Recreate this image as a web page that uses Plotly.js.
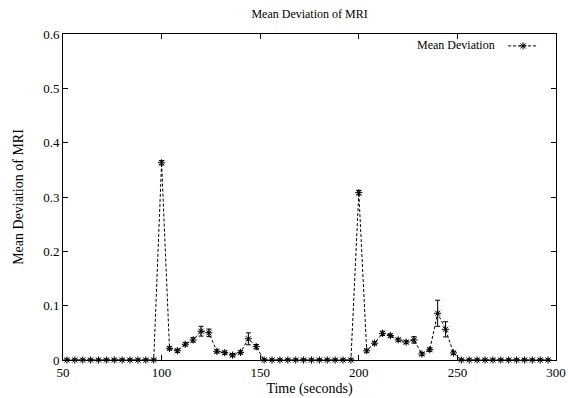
<!DOCTYPE html>
<html>
<head>
<meta charset="utf-8">
<script src="https://cdn.plot.ly/plotly-3.0.1.min.js"></script>
<style>html,body{margin:0;padding:0;background:#fff;}#chart{width:568px;height:398px;}</style>
</head>
<body>
<div id="chart"></div>
<script>
// Time stamps (seconds)
const timeSeconds = [52,56,60,64,68,72,76,80,84,88,92,96,100,104,108,112,116,120,124,128,132,136,140,144,148,152,156,160,164,168,172,176,180,184,188,192,196,200,204,208,212,216,220,224,228,232,236,240,244,248,252,256,260,264,268,272,276,280,284,288,292,296];
// Mean deviation values
const meanDeviation = [0,0,0,0,0,0,0,0,0,0,0,0,0.363,0.0215,0.017,0.029,0.037,0.053,0.050,0.016,0.0135,0.009,0.014,0.039,0.0245,0,0,0,0,0,0,0,0,0,0,0,0,0.308,0.017,0.031,0.049,0.045,0.037,0.033,0.037,0.011,0.019,0.086,0.0565,0.013,0,0,0,0,0,0,0,0,0,0,0,0];
// Error (half-height of error bars)
const deviationError = [0.002,0.002,0.002,0.002,0.002,0.002,0.002,0.002,0.002,0.002,0.002,0.002,0.004,0.003,0.003,0.003,0.004,0.009,0.007,0.003,0.003,0.003,0.003,0.011,0.004,0.002,0.002,0.002,0.002,0.002,0.002,0.002,0.002,0.002,0.002,0.002,0.002,0.004,0.003,0.003,0.004,0.003,0.003,0.003,0.006,0.003,0.003,0.024,0.014,0.003,0.002,0.002,0.002,0.002,0.002,0.002,0.002,0.002,0.002,0.002,0.002,0.002];
const xTicks = [50,100,150,200,250,300];
const yTicks = [0,0.1,0.2,0.3,0.4,0.5,0.6];
const yTickLabels = ['0','0.1','0.2','0.3','0.4','0.5','0.6'];

const fontFam = 'Liberation Serif, Times New Roman, serif';

const trace = {
  x: timeSeconds,
  y: meanDeviation,
  type: 'scatter',
  mode: 'lines+markers',
  name: ' ',
  line: {color: '#000', width: 1, dash: '3px,2px'},
  marker: {symbol: 'asterisk-open', size: 6, color: '#000', line: {color: '#000', width: 1}},
  error_y: {type: 'data', array: deviationError, visible: true, color: '#000', thickness: 1, width: 2.5},
  cliponaxis: false
};

const axisCommon = {
  showgrid: false, zeroline: false, showline: true, linecolor: '#000', linewidth: 1,
  mirror: 'allticks', ticks: 'inside', ticklen: 5, tickcolor: '#000', tickwidth: 1,
  tickfont: {family: fontFam, size: 13, color: '#000'}
};

const layout = {
  width: 568, height: 398,
  margin: {l: 63, r: 12, t: 34, b: 38},
  paper_bgcolor: '#fff', plot_bgcolor: '#fff',
  font: {family: fontFam, size: 12, color: '#000'},
  title: {text: 'Mean Deviation of MRI', font: {family: fontFam, size: 12, color: '#000'}, x: 0.545, xanchor: 'center', y: 0.965, yanchor: 'middle'},
  xaxis: Object.assign({}, axisCommon, {
    range: [50, 300], tickvals: xTicks, ticktext: xTicks.map(String),
    title: {text: 'Time (seconds)', font: {family: fontFam, size: 14, color: '#000'}, standoff: 4}
  }),
  yaxis: Object.assign({}, axisCommon, {
    range: [0, 0.6], tickvals: yTicks, ticktext: yTickLabels,
    title: {text: 'Mean Deviation of MRI', font: {family: fontFam, size: 14, color: '#000'}, standoff: 16}
  }),
  showlegend: true,
  legend: {x: 0.99, xanchor: 'right', y: 1.008, yanchor: 'top', bgcolor: 'rgba(0,0,0,0)', borderwidth: 0,
           font: {family: fontFam, size: 12, color: '#000'}, itemwidth: 30},
  annotations: [{xref: 'paper', yref: 'paper', x: 0.881, y: 0.965, xanchor: 'right', yanchor: 'middle',
                 text: 'Mean Deviation', showarrow: false, font: {family: fontFam, size: 12, color: '#000'}}]
};

Plotly.newPlot('chart', [trace], layout, {displayModeBar: false, staticPlot: true});
</script>
</body>
</html>
